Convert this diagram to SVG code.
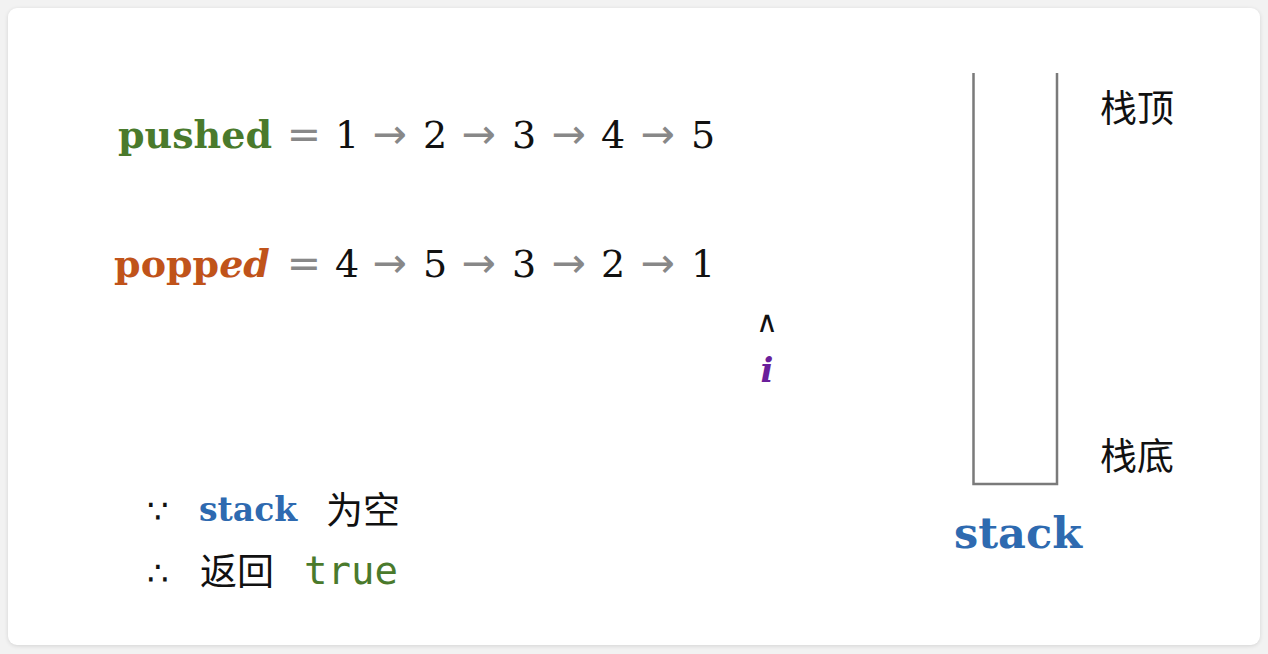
<svg xmlns="http://www.w3.org/2000/svg" width="1268" height="654" viewBox="0 0 1268 654">
<defs>
<filter id="sh" x="-5%" y="-5%" width="110%" height="110%"><feGaussianBlur stdDeviation="2"/></filter>
<style>
.m{font-family:"DejaVu Serif","Liberation Serif",serif;font-size:38px;fill:#111;text-anchor:middle}
.ar{font-family:"DejaVu Sans",sans-serif;font-size:41px;fill:#888;text-anchor:middle}
.eq{font-family:"DejaVu Sans",sans-serif;font-size:41px;fill:#888;text-anchor:middle}
.lb{font-family:"DejaVu Serif","Liberation Serif",serif;font-weight:bold;font-size:38px;text-anchor:middle}
.cn{font-family:"Noto Sans CJK SC",sans-serif;font-size:37px;fill:#111}
.sym{font-family:"DejaVu Sans",sans-serif;font-size:34px;fill:#111}
</style>
</defs>
<rect x="0" y="0" width="1268" height="654" fill="#f2f2f2"/>
<rect x="8" y="9" width="1252" height="637" rx="9" fill="#000" opacity="0.12" filter="url(#sh)"/>
<rect x="8" y="8" width="1252" height="637" rx="9" fill="#fff"/>
<g id="pushed">
<text class="lb" x="195" y="148" fill="#4a7a2c">pushed</text>
<text class="eq" x="304" y="148">=</text>
<text class="m" x="347" y="148">1</text><text class="ar" x="390" y="148">→</text>
<text class="m" x="435" y="148">2</text><text class="ar" x="479" y="148">→</text>
<text class="m" x="524" y="148">3</text><text class="ar" x="569" y="148">→</text>
<text class="m" x="613" y="148">4</text><text class="ar" x="658" y="148">→</text>
<text class="m" x="703" y="148">5</text>
</g>
<g id="popped">
<text class="lb" x="192" y="277" fill="#c0531a">popp<tspan font-style="italic">ed</tspan></text>
<text class="eq" x="304" y="277">=</text>
<text class="m" x="347" y="277">4</text><text class="ar" x="390" y="277">→</text>
<text class="m" x="435" y="277">5</text><text class="ar" x="479" y="277">→</text>
<text class="m" x="524" y="277">3</text><text class="ar" x="569" y="277">→</text>
<text class="m" x="613" y="277">2</text><text class="ar" x="658" y="277">→</text>
<text class="m" x="703" y="277">1</text>
</g>
<g id="pointer">
<text x="767" y="332" font-family="DejaVu Sans,sans-serif" font-size="30" fill="#111" text-anchor="middle">∧</text>
<text x="767" y="382" font-family="DejaVu Serif,serif" font-weight="bold" font-style="italic" font-size="34" fill="#6a1f9b" text-anchor="middle">i</text>
</g>
<g id="conclusion">
<text class="sym" x="147" y="523">∵</text>
<text x="199" y="521" font-family="DejaVu Serif,Liberation Serif,serif" font-weight="bold" font-size="33" fill="#2e6ab0">stack</text>
<text class="cn" x="326" y="524">为空</text>
<text class="sym" x="147" y="585">∴</text>
<text class="cn" x="200" y="585">返回</text>
<text x="304" y="584" font-family="DejaVu Sans Mono,Liberation Mono,monospace" font-size="39" fill="#4a7a2c">true</text>
</g>
<g id="stack">
<path d="M973.5 73 V484 H1057 V73" fill="none" stroke="#7a7a7a" stroke-width="2.5"/>
<text class="cn" x="1100" y="122">栈顶</text>
<text class="cn" x="1100" y="470">栈底</text>
<text x="1018" y="548" font-family="DejaVu Serif,Liberation Serif,serif" font-weight="bold" font-size="43" fill="#2e6ab0" text-anchor="middle">stack</text>
</g>
</svg>
